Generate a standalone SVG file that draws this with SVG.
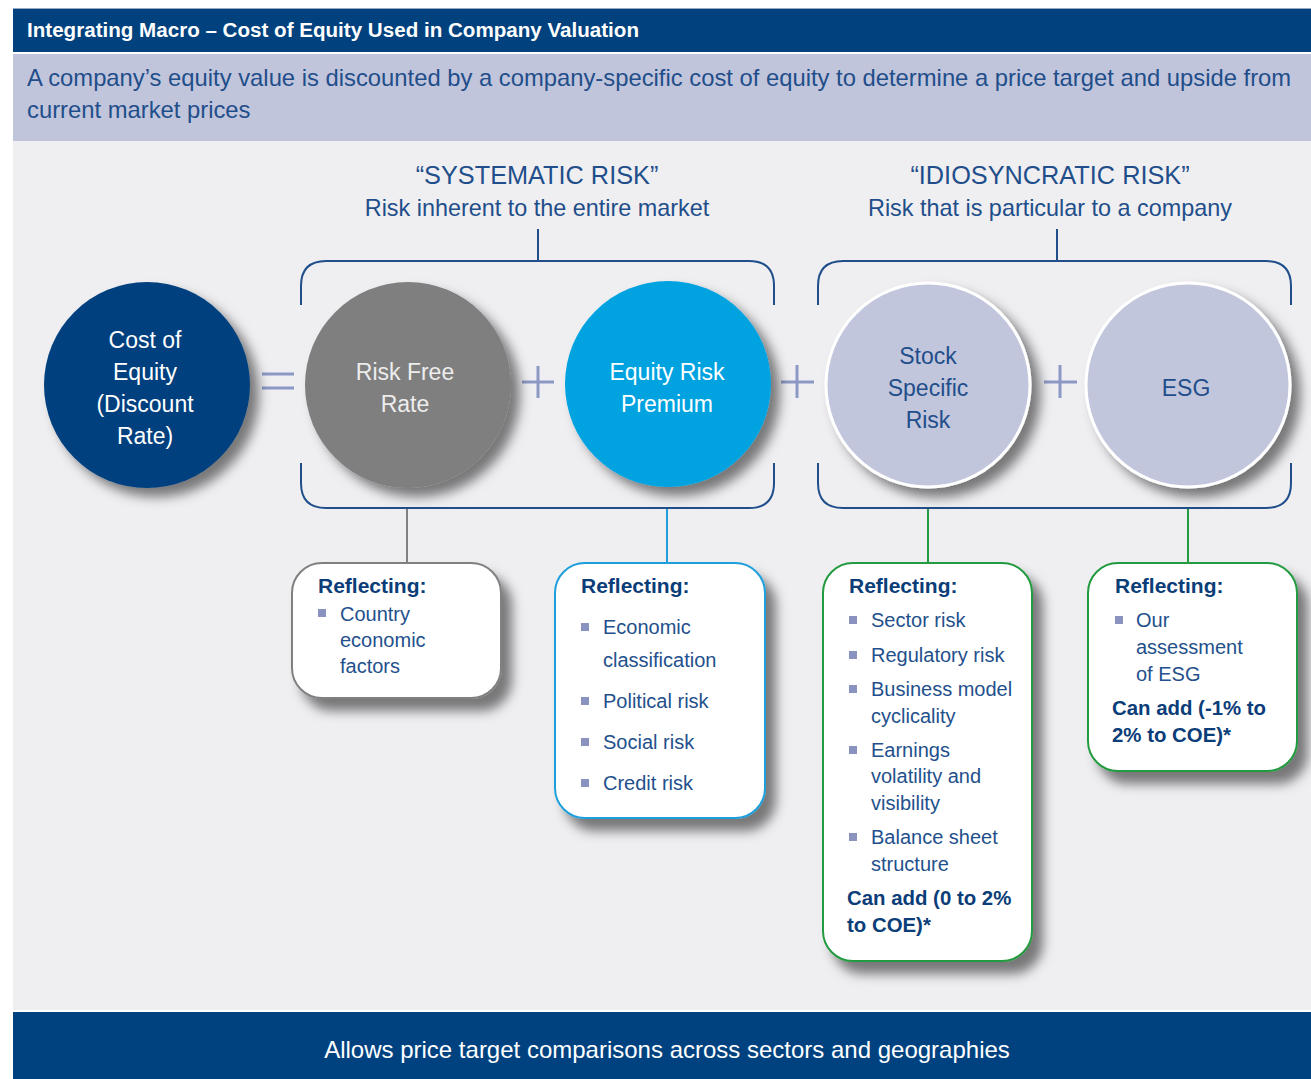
<svg xmlns="http://www.w3.org/2000/svg" width="1311" height="1079" viewBox="0 0 1311 1079">
<defs>
<filter id="cshadow" x="-30%" y="-30%" width="170%" height="170%">
<feDropShadow dx="9" dy="9" stdDeviation="6" flood-color="#000" flood-opacity="0.5"/>
</filter>
<filter id="bshadow" x="-30%" y="-30%" width="170%" height="170%">
<feDropShadow dx="10" dy="12" stdDeviation="6" flood-color="#000" flood-opacity="0.5"/>
</filter>
</defs>
<style>
text{font-family:"Liberation Sans",Arial,sans-serif}
.title{font-size:20px;font-weight:bold;fill:#fff}
.sub{font-size:23.8px;fill:#1F4E8A}
.hd{font-size:25.3px;fill:#1F4E8A;text-anchor:middle}
.hs{font-size:23.4px;fill:#1F4E8A;text-anchor:middle}
.ct{font-size:23px;text-anchor:middle}
.op{stroke:#8C99C5;stroke-width:3;fill:none}
.br{stroke:#1F4E8A;stroke-width:2;fill:none}
.box{fill:#fff;stroke-width:2;filter:url(#bshadow)}
.rf{font-size:21px;font-weight:bold;fill:#0B3D78}
.it{font-size:20px;fill:#23508C}
.ca{font-size:20.4px;font-weight:bold;fill:#0B3D78}
.bl{fill:#8A93BF}
.foot{font-size:24px;fill:#fff;text-anchor:middle}
</style>
<rect x="0" y="0" width="1311" height="1079" fill="#fff"/>
<!-- header -->
<rect x="13" y="8" width="1298" height="44" fill="#00417E"/>
<line x1="13" y1="8.5" x2="1311" y2="8.5" stroke="#9AAAC4" stroke-width="1"/>
<text class="title" x="27" y="37" textLength="612" lengthAdjust="spacingAndGlyphs">Integrating Macro – Cost of Equity Used in Company Valuation</text>
<rect x="13" y="54" width="1298" height="87" fill="#C1C5DC"/>
<text class="sub" x="27" y="86">A company’s equity value is discounted by a company-specific cost of equity to determine a price target and upside from</text>
<text class="sub" x="27" y="118">current market prices</text>
<rect x="13" y="141" width="1298" height="869" fill="#EFEFF2"/>
<!-- headings -->
<text class="hd" x="537" y="184">“SYSTEMATIC RISK”</text>
<text class="hs" x="537" y="216">Risk inherent to the entire market</text>
<text class="hd" x="1050" y="184">“IDIOSYNCRATIC RISK”</text>
<text class="hs" x="1050" y="216">Risk that is particular to a company</text>
<!-- connectors -->
<g id="connectors">
<line x1="538" y1="229" x2="538" y2="261" class="br"/>
<line x1="1057" y1="229" x2="1057" y2="261" class="br"/>
<path class="br" d="M301,305 V286 Q301,261 326,261 H749 Q774,261 774,286 V305"/>
<path class="br" d="M301,463 V483 Q301,508 326,508 H749 Q774,508 774,483 V463"/>
<path class="br" d="M818,305 V286 Q818,261 843,261 H1266 Q1291,261 1291,286 V305"/>
<path class="br" d="M818,463 V483 Q818,508 843,508 H1266 Q1291,508 1291,483 V463"/>
<line x1="407" y1="509" x2="407" y2="563" stroke="#808080" stroke-width="2"/>
<line x1="667" y1="509" x2="667" y2="563" stroke="#1E9FDB" stroke-width="2"/>
<line x1="928" y1="509" x2="928" y2="563" stroke="#229A3F" stroke-width="2"/>
<line x1="1188" y1="509" x2="1188" y2="563" stroke="#229A3F" stroke-width="2"/>
<path class="op" d="M262,374 H294 M262,388 H294"/>
<path class="op" d="M522,382 H554 M538,366 V398"/>
<path class="op" d="M781,382 H814 M797,365 V398"/>
<path class="op" d="M1044,382 H1077 M1060,365 V398"/>
</g>
<!-- circles -->
<g id="coe">
<circle cx="147" cy="385" r="103" fill="#00417E" filter="url(#cshadow)"/>
<text class="ct" fill="#fff"><tspan x="145" y="348">Cost of</tspan><tspan x="145" y="380">Equity</tspan><tspan x="145" y="412">(Discount</tspan><tspan x="145" y="444">Rate)</tspan></text>
</g>
<g id="rfr">
<circle cx="408" cy="385" r="103" fill="#7F7F80" filter="url(#cshadow)"/>
<text class="ct" fill="#EDEDED"><tspan x="405" y="380">Risk Free</tspan><tspan x="405" y="412">Rate</tspan></text>
</g>
<g id="erp">
<circle cx="668" cy="384" r="103" fill="#00A3E0" filter="url(#cshadow)"/>
<text class="ct" fill="#fff"><tspan x="667" y="380">Equity Risk</tspan><tspan x="667" y="412">Premium</tspan></text>
</g>
<g id="ssr">
<circle cx="928" cy="385" r="102" fill="#C2C6DD" stroke="#fff" stroke-width="3" filter="url(#cshadow)"/>
<text class="ct" fill="#1F4E8A"><tspan x="928" y="364">Stock</tspan><tspan x="928" y="396">Specific</tspan><tspan x="928" y="428">Risk</tspan></text>
</g>
<g id="esg">
<circle cx="1188" cy="385" r="102" fill="#C2C6DD" stroke="#fff" stroke-width="3" filter="url(#cshadow)"/>
<text class="ct" fill="#1F4E8A" x="1186" y="396">ESG</text>
</g>
<!-- boxes -->
<g id="box-rfr">
<rect class="box" x="292" y="563" width="209" height="135" rx="30" stroke="#808080"/>
<text class="rf" x="318" y="593">Reflecting:</text>
<rect class="bl" x="318" y="609" width="8" height="8"/>
<text class="it"><tspan x="340" y="621">Country</tspan><tspan x="340" y="647">economic</tspan><tspan x="340" y="673">factors</tspan></text>
</g>
<g id="box-erp">
<rect class="box" x="555" y="563" width="210" height="255" rx="30" stroke="#1E9FDB"/>
<text class="rf" x="581" y="593">Reflecting:</text>
<rect class="bl" x="581" y="623" width="8" height="8"/>
<rect class="bl" x="581" y="697" width="8" height="8"/>
<rect class="bl" x="581" y="738" width="8" height="8"/>
<rect class="bl" x="581" y="779" width="8" height="8"/>
<text class="it"><tspan x="603" y="634">Economic</tspan><tspan x="603" y="667">classification</tspan><tspan x="603" y="708">Political risk</tspan><tspan x="603" y="749">Social risk</tspan><tspan x="603" y="790">Credit risk</tspan></text>
</g>
<g id="box-ssr">
<rect class="box" x="823" y="563" width="209" height="398" rx="30" stroke="#229A3F"/>
<text class="rf" x="849" y="593">Reflecting:</text>
<rect class="bl" x="849" y="616" width="8" height="8"/>
<rect class="bl" x="849" y="651" width="8" height="8"/>
<rect class="bl" x="849" y="685" width="8" height="8"/>
<rect class="bl" x="849" y="746" width="8" height="8"/>
<rect class="bl" x="849" y="833" width="8" height="8"/>
<text class="it"><tspan x="871" y="627">Sector risk</tspan><tspan x="871" y="662">Regulatory risk</tspan><tspan x="871" y="696">Business model</tspan><tspan x="871" y="723">cyclicality</tspan><tspan x="871" y="757">Earnings</tspan><tspan x="871" y="783">volatility and</tspan><tspan x="871" y="810">visibility</tspan><tspan x="871" y="844">Balance sheet</tspan><tspan x="871" y="871">structure</tspan></text>
<text class="ca"><tspan x="847" y="905">Can add (0 to 2%</tspan><tspan x="847" y="932">to COE)*</tspan></text>
</g>
<g id="box-esg">
<rect class="box" x="1088" y="563" width="209" height="208" rx="30" stroke="#229A3F"/>
<text class="rf" x="1115" y="593">Reflecting:</text>
<rect class="bl" x="1115" y="616" width="8" height="8"/>
<text class="it"><tspan x="1136" y="627">Our</tspan><tspan x="1136" y="654">assessment</tspan><tspan x="1136" y="681">of ESG</tspan></text>
<text class="ca"><tspan x="1112" y="715">Can add (-1% to</tspan><tspan x="1112" y="742">2% to COE)*</tspan></text>
</g>
<!-- footer -->
<rect x="13" y="1012" width="1298" height="67" fill="#00427F"/>
<text class="foot" x="667" y="1058">Allows price target comparisons across sectors and geographies</text>
</svg>
